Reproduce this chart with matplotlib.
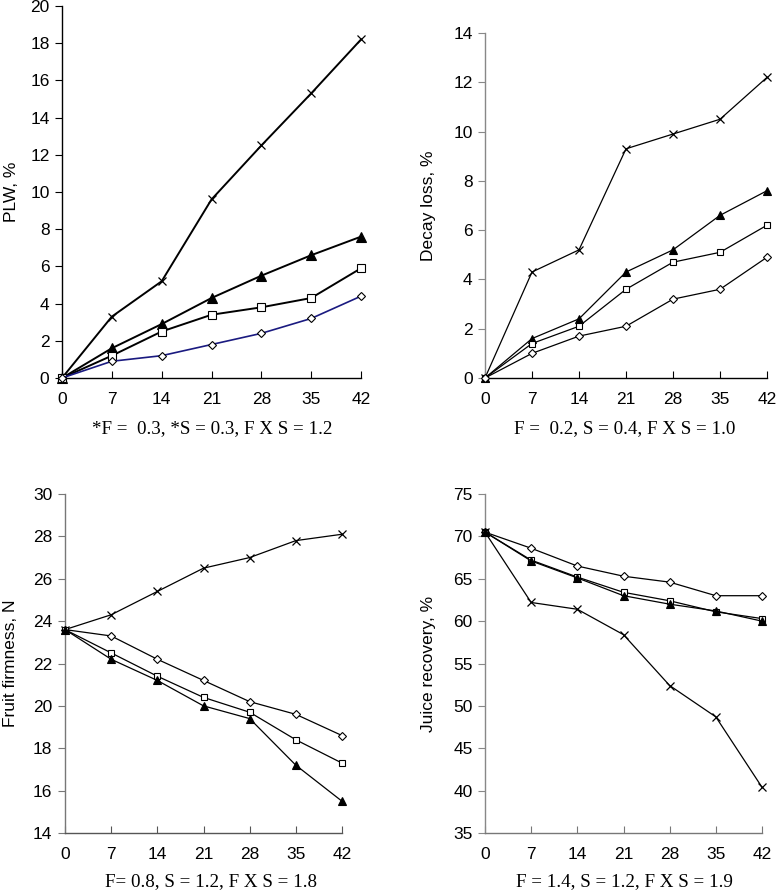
import matplotlib
matplotlib.use("Agg")
import matplotlib.pyplot as plt

days = [0, 7, 14, 21, 28, 35, 42]

plw_x = [0, 3.3, 5.2, 9.6, 12.5, 15.3, 18.2]
plw_tri = [0, 1.6, 2.9, 4.3, 5.5, 6.6, 7.6]
plw_sq = [0, 1.2, 2.5, 3.4, 3.8, 4.3, 5.9]
plw_dia = [0, 0.9, 1.2, 1.8, 2.4, 3.2, 4.4]

decay_x = [0, 4.3, 5.2, 9.3, 9.9, 10.5, 12.2]
decay_tri = [0, 1.6, 2.4, 4.3, 5.2, 6.6, 7.6]
decay_sq = [0, 1.4, 2.1, 3.6, 4.7, 5.1, 6.2]
decay_dia = [0, 1.0, 1.7, 2.1, 3.2, 3.6, 4.9]

firm_x = [23.6, 24.3, 25.4, 26.5, 27.0, 27.8, 28.1]
firm_dia = [23.6, 23.3, 22.2, 21.2, 20.2, 19.6, 18.6]
firm_sq = [23.6, 22.5, 21.4, 20.4, 19.7, 18.4, 17.3]
firm_tri = [23.6, 22.2, 21.2, 20.0, 19.4, 17.2, 15.5]

juice_dia = [70.5, 68.6, 66.5, 65.3, 64.6, 63.0, 63.0]
juice_sq = [70.5, 67.2, 65.2, 63.4, 62.4, 61.1, 60.3]
juice_tri = [70.5, 67.1, 65.1, 63.0, 62.0, 61.2, 60.0]
juice_x = [70.5, 62.2, 61.4, 58.4, 52.4, 48.7, 40.4]

ylabels = ["PLW, %", "Decay loss, %", "Fruit firmness, N", "Juice recovery, %"]
captions = ["*F =  0.3, *S = 0.3, F X S = 1.2",
            "F =  0.2, S = 0.4, F X S = 1.0",
            "F= 0.8, S = 1.2, F X S = 1.8",
            "F = 1.4, S = 1.2, F X S = 1.9"]

W, H = 777, 894
fig = plt.figure(figsize=(W / 100, H / 100), dpi=100)
plt.rcParams['font.family'] = ['Liberation Sans', 'DejaVu Sans']

def add_ax(x0, y0, x1, y1):
    return fig.add_axes([x0 / W, 1 - y1 / H, (x1 - x0) / W, (y1 - y0) / H])

axes = [add_ax(62, 6, 361, 378), add_ax(485, 33, 767, 378),
        add_ax(65, 494, 342, 833), add_ax(485, 494, 762, 833)]

panels = [
    [(plw_x, 'x', 'black', 'black', 1.4), (plw_tri, '^', 'black', 'black', 1.4),
     (plw_sq, 's', 'white', 'black', 1.4), (plw_dia, 'D', 'white', '#1a1a80', 1.2)],
    [(decay_x, 'x', 'black', 'black', 0.9), (decay_tri, '^', 'black', 'black', 0.9),
     (decay_sq, 's', 'white', 'black', 0.9), (decay_dia, 'D', 'white', 'black', 0.9)],
    [(firm_x, 'x', 'black', 'black', 0.9), (firm_dia, 'D', 'white', 'black', 0.9),
     (firm_sq, 's', 'white', 'black', 0.9), (firm_tri, '^', 'black', 'black', 0.9)],
    [(juice_dia, 'D', 'white', 'black', 0.9), (juice_sq, 's', 'white', 'black', 0.9),
     (juice_tri, '^', 'black', 'black', 0.9), (juice_x, 'x', 'black', 'black', 0.9)],
]
ylims = [(0, 20, 2), (0, 14, 2), (14, 30, 2), (35, 75, 5)]
caption_pos = [(212, 429), (625, 429), (211, 882), (624, 882)]
labelpads = [8, 12, 11, 12]
spine_cols = [('black', 'black'), ('#888888', 'black'), ('#777777', '#555555'),
              ('#888888', '#777777')]

for i, ax in enumerate(axes):
    big = (i == 0)
    for ys, m, fc, lc, lw in panels[i]:
        if m == 'x':
            ax.plot(days, ys, color=lc, lw=lw, marker='x', ms=6, mew=0.9, zorder=3)
        else:
            ms = {'^': 6.5 if big else 6, 's': 6 if big else 4.6, 'D': 4}[m]
            ax.plot(days, ys, color=lc, lw=lw, marker=m, ms=ms, mfc=fc,
                    mec='black', mew=0.8, zorder=3)
    lo, hi, st = ylims[i]
    ax.set_ylim(lo, hi)
    ax.set_yticks(range(lo, hi + 1, st))
    ax.set_xlim(0, 42)
    ax.set_xticks(days)
    ax.spines['top'].set_visible(False)
    ax.spines['right'].set_visible(False)
    lc_, bc_ = spine_cols[i]
    ax.spines['left'].set_color(lc_)
    ax.spines['bottom'].set_color(bc_)
    ax.spines['left'].set_linewidth(1.0)
    ax.spines['bottom'].set_linewidth(1.0)
    ax.tick_params(axis='y', direction='out', length=5, width=0.8, colors=lc_,
                   labelcolor='black', labelsize=12.5, pad=4)
    ax.tick_params(axis='x', direction='in', length=5, width=0.8, colors=bc_,
                   labelcolor='black', labelsize=12.5, pad=10)
    ax.set_ylabel(ylabels[i], fontsize=12.5, labelpad=labelpads[i])
    ax.patch.set_visible(False)
    for ln in ax.lines:
        ln.set_clip_on(False)
    cx, cy = caption_pos[i]
    fig.text(cx / W, 1 - cy / H, captions[i], ha='center', va='center',
             fontsize=13.7, family='Liberation Serif')

fig.savefig("out.png", dpi=100)
